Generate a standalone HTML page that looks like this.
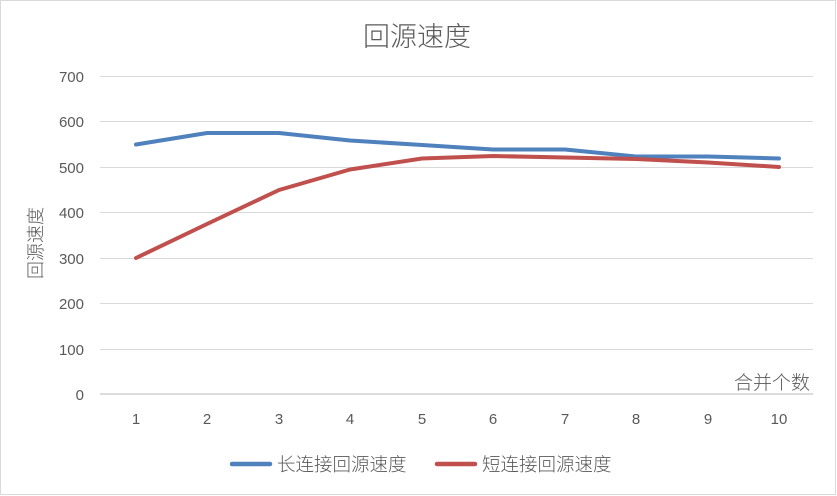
<!DOCTYPE html>
<html><head><meta charset="utf-8"><style>
body{margin:0;background:#fff}
svg{display:block}
text{font-family:"Liberation Sans","Noto Sans CJK SC",sans-serif;fill:#595959;font-weight:300}
</style></head><body>
<svg width="837" height="496" viewBox="0 0 837 496" xmlns="http://www.w3.org/2000/svg">
<rect x="0.5" y="0.5" width="835" height="494" fill="#fff" stroke="#d9d9d9"/>
<text x="417" y="46" font-size="27" text-anchor="middle">回源速度</text>
<g stroke="#d9d9d9" stroke-width="1">
<line x1="100" x2="813" y1="76.5" y2="76.5"/>
<line x1="100" x2="813" y1="121.5" y2="121.5"/>
<line x1="100" x2="813" y1="167.5" y2="167.5"/>
<line x1="100" x2="813" y1="212.5" y2="212.5"/>
<line x1="100" x2="813" y1="258.5" y2="258.5"/>
<line x1="100" x2="813" y1="303.5" y2="303.5"/>
<line x1="100" x2="813" y1="349.5" y2="349.5"/>
</g>
<line x1="100" x2="813" y1="394" y2="394" stroke="#d0d0d0" stroke-width="1.5"/>
<g font-size="15" text-anchor="end">
<text x="84" y="82">700</text><text x="84" y="127">600</text><text x="84" y="173">500</text>
<text x="84" y="218">400</text><text x="84" y="264">300</text><text x="84" y="309">200</text>
<text x="84" y="355">100</text><text x="84" y="400">0</text>
</g>
<g font-size="15" text-anchor="middle">
<text x="136" y="424">1</text><text x="207" y="424">2</text><text x="279" y="424">3</text>
<text x="350" y="424">4</text><text x="422" y="424">5</text><text x="493" y="424">6</text>
<text x="565" y="424">7</text><text x="636" y="424">8</text><text x="708" y="424">9</text>
<text x="779" y="424">10</text>
</g>
<text x="810" y="389" font-size="19" text-anchor="end">合并个数</text>
<text transform="translate(42,243) rotate(-90)" font-size="18" text-anchor="middle">回源速度</text>
<polyline fill="none" stroke="#4f81bd" stroke-width="4" stroke-linejoin="round" stroke-linecap="round"
points="136,144.5 207,133 279,133 350,140.5 422,145 493,149.5 565,149.5 636,156.5 708,156.5 779,158.5"/>
<polyline fill="none" stroke="#c0504d" stroke-width="4" stroke-linejoin="round" stroke-linecap="round"
points="136,258 207,224 279,190 350,169.5 422,158.5 493,156 565,157.5 636,159 708,162.5 779,167"/>
<line x1="232" x2="270" y1="464" y2="464" stroke="#4f81bd" stroke-width="4.5" stroke-linecap="round"/>
<text x="277" y="471" font-size="18.5">长连接回源速度</text>
<line x1="437" x2="475" y1="464" y2="464" stroke="#c0504d" stroke-width="4.5" stroke-linecap="round"/>
<text x="482" y="471" font-size="18.5">短连接回源速度</text>
</svg>
</body></html>
